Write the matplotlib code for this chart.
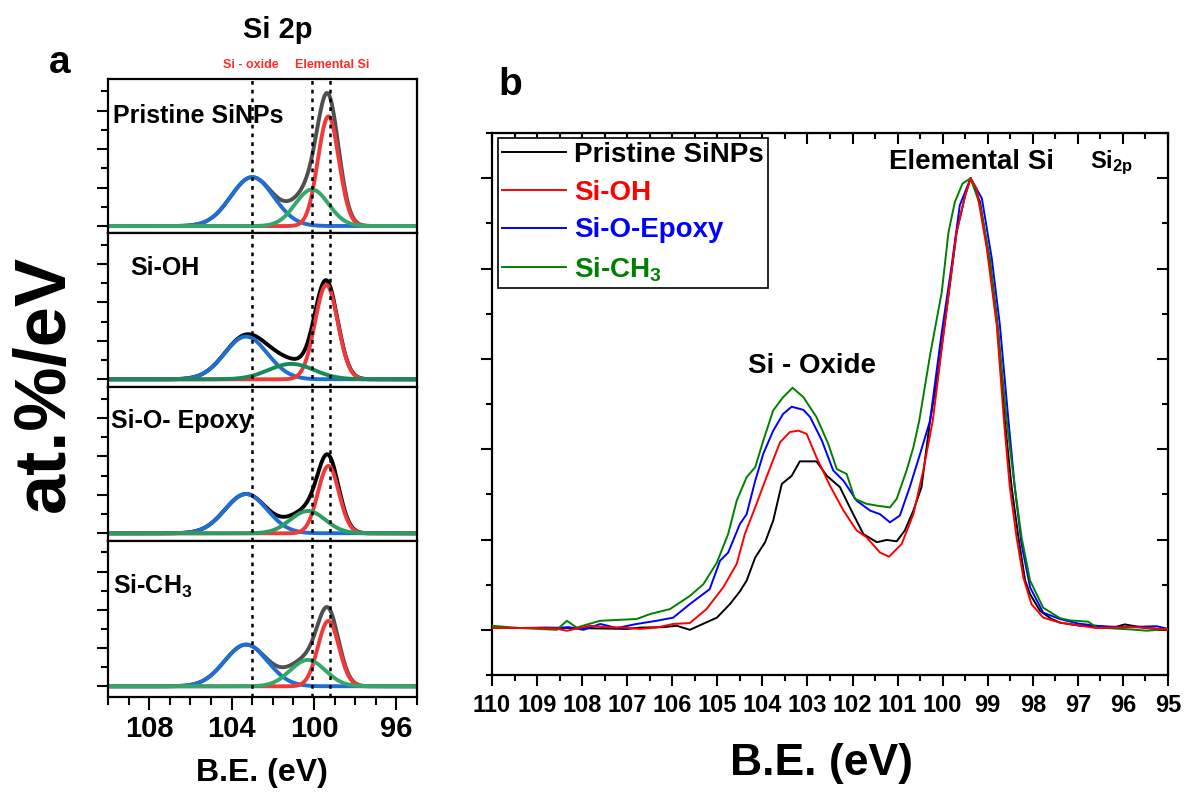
import numpy as np
import matplotlib.pyplot as plt
from matplotlib.ticker import MultipleLocator

plt.rcParams['font.family'] = ['Liberation Sans', 'DejaVu Sans']
plt.rcParams['font.weight'] = 'bold'
plt.rcParams['mathtext.fontset'] = 'custom'
plt.rcParams['mathtext.rm'] = 'Liberation Sans:bold'
plt.rcParams['mathtext.it'] = 'Liberation Sans:bold'
plt.rcParams['mathtext.bf'] = 'Liberation Sans:bold'
plt.rcParams['mathtext.default'] = 'rm'

# ---- panel a: Si 2p peak fits (centre eV, height, FWHM eV) ----
fit_labels = ['Pristine SiNPs', 'Si-OH', 'Si-O- Epoxy', 'Si-CH$_3$']
oxide_center = [103.0, 103.3, 103.3, 103.3]
oxide_height = [1.27, 1.11, 1.02, 1.09]
oxide_fwhm = [2.45, 2.45, 2.4, 2.45]
si_center = [99.3, 99.4, 99.3, 99.3]
si_height = [2.85, 2.45, 1.75, 1.71]
si_fwhm = [1.2, 1.3, 1.2, 1.2]
mid_center = [100.1, 101.1, 100.3, 100.3]
mid_height = [0.95, 0.40, 0.58, 0.69]
mid_fwhm = [1.9, 2.6, 2.0, 2.0]
ref_lines = [103.0, 100.1, 99.2]

# ---- panel b: normalised Si 2p spectra ----
be_pristine = [110.0, 109.4, 108.8, 108.2, 107.6, 107.0, 106.7, 106.2, 105.9, 105.61,
               105.3, 105.01, 104.72, 104.5, 104.35, 104.16, 103.94, 103.76, 103.57, 103.35,
               103.17, 102.8, 102.57, 102.28, 102.06, 101.76, 101.46, 101.24, 101.02, 100.84,
               100.65, 100.47, 100.28, 100.1, 99.91, 99.69, 99.5, 99.38, 99.17, 98.95,
               98.77, 98.62, 98.47, 98.32, 98.17, 98.06, 97.84, 97.6, 97.4, 96.95,
               96.5, 96.21, 95.96, 95.5, 95.0]
int_pristine = [0.004, 0.004, 0.005, 0.004, 0.003, 0.002, 0.005, 0.006, 0.009, 0.0,
                0.014, 0.027, 0.057, 0.085, 0.109, 0.160, 0.194, 0.242, 0.323, 0.341,
                0.373, 0.373, 0.341, 0.316, 0.271, 0.212, 0.194, 0.199, 0.196, 0.220,
                0.264, 0.316, 0.463, 0.570, 0.711, 0.881, 0.962, 1.0, 0.947, 0.807,
                0.659, 0.463, 0.316, 0.205, 0.109, 0.079, 0.042, 0.025, 0.016, 0.009,
                0.008, 0.005, 0.012, 0.004, 0.0]

be_oh = [110.0, 109.16, 108.6, 108.34, 107.83, 107.5, 107.09, 106.72, 106.35, 105.98,
         105.61, 105.24, 104.87, 104.57, 104.39, 104.13, 103.91, 103.61, 103.39, 103.2,
         103.02, 102.8, 102.5, 102.2, 101.91, 101.69, 101.39, 101.19, 100.91, 100.65,
         100.43, 100.22, 99.91, 99.69, 99.5, 99.38, 99.25, 99.02, 98.8, 98.64,
         98.51, 98.36, 98.21, 98.03, 97.77, 97.4, 97.0, 96.6, 96.2, 95.8,
         95.4, 95.0]
int_oh = [0.004, 0.004, 0.003, -0.002, 0.009, 0.006, 0.005, 0.002, 0.005, 0.013,
          0.015, 0.046, 0.094, 0.146, 0.212, 0.279, 0.338, 0.415, 0.438, 0.441,
          0.434, 0.382, 0.319, 0.264, 0.220, 0.205, 0.171, 0.162, 0.190, 0.256,
          0.353, 0.463, 0.711, 0.881, 0.962, 1.0, 0.977, 0.844, 0.674, 0.463,
          0.316, 0.205, 0.116, 0.057, 0.027, 0.016, 0.010, 0.004, 0.005, 0.006,
          0.004, 0.0]

be_epoxy = [110.0, 108.56, 108.3, 107.97, 107.6, 107.23, 106.79, 106.35, 105.98, 105.61,
            105.17, 104.94, 104.76, 104.5, 104.35, 104.16, 103.98, 103.76, 103.54, 103.35,
            103.09, 102.94, 102.68, 102.43, 102.2, 101.91, 101.61, 101.39, 101.17, 100.95,
            100.73, 100.5, 100.28, 100.02, 99.8, 99.62, 99.38, 99.13, 98.91, 98.73,
            98.54, 98.4, 98.25, 98.06, 97.77, 97.4, 97.0, 96.5, 96.0, 95.25,
            95.0]
int_epoxy = [0.004, 0.004, 0.006, 0.0, 0.013, 0.004, 0.013, 0.020, 0.027, 0.057,
             0.090, 0.153, 0.171, 0.234, 0.256, 0.330, 0.390, 0.441, 0.478, 0.494,
             0.487, 0.471, 0.419, 0.353, 0.330, 0.286, 0.264, 0.256, 0.238, 0.253,
             0.316, 0.390, 0.463, 0.659, 0.807, 0.940, 1.0, 0.955, 0.822, 0.674,
             0.463, 0.316, 0.190, 0.094, 0.038, 0.024, 0.014, 0.008, 0.006, 0.008,
             0.002]

be_ch3 = [110.0, 109.38, 108.56, 108.34, 108.12, 107.85, 107.6, 107.2, 106.79, 106.49,
          106.05, 105.61, 105.31, 105.01, 104.76, 104.57, 104.35, 104.16, 103.98, 103.76,
          103.54, 103.33, 103.09, 102.8, 102.54, 102.35, 102.13, 101.95, 101.69, 101.46,
          101.17, 101.02, 100.8, 100.65, 100.52, 100.28, 100.02, 99.87, 99.73, 99.56,
          99.38, 99.17, 98.95, 98.8, 98.58, 98.4, 98.25, 98.06, 97.77, 97.4,
          97.18, 96.77, 96.58, 95.84, 95.47, 95.0]
int_ch3 = [0.009, 0.004, 0.0, 0.020, 0.005, 0.013, 0.020, 0.022, 0.024, 0.035,
           0.046, 0.075, 0.101, 0.149, 0.212, 0.286, 0.338, 0.360, 0.419, 0.486,
           0.515, 0.536, 0.515, 0.471, 0.412, 0.356, 0.345, 0.290, 0.279, 0.275,
           0.271, 0.290, 0.353, 0.404, 0.463, 0.608, 0.748, 0.881, 0.947, 0.988,
           1.0, 0.940, 0.822, 0.696, 0.463, 0.316, 0.205, 0.109, 0.049, 0.026,
           0.021, 0.018, 0.005, 0.001, -0.002, 0.002]

W, H = 1185, 796
fig = plt.figure(figsize=(W / 100, H / 100), dpi=100)


def box(left, top, right, bottom):
    return [left / W, 1 - bottom / H, (right - left) / W, (bottom - top) / H]


def gauss(x, c, h, w):
    return h * np.exp(-4 * np.log(2) * (x - c) ** 2 / w ** 2)


# panel a
panel_boxes = [(108, 79, 417, 233), (108, 233, 417, 387),
               (108, 387, 417, 541), (108, 541, 417, 697)]
panel_ylim = [(-0.18, 3.82), (-0.2, 3.8), (-0.2, 3.8), (-0.28, 3.8)]
env_colors = ['#505050', 'black', 'black', '#505050']
green_colors = ['#33a86a', '#178a5c', '#2a9d63', '#33a86a']
label_y = [0.712, 0.727, 0.732, 0.662]
label_x = [0.016, 0.071, 0.010, 0.016]

e = np.linspace(95, 110, 601)
for i in range(4):
    ax = fig.add_axes(box(*panel_boxes[i]))
    oxide = gauss(e, oxide_center[i], oxide_height[i], oxide_fwhm[i])
    si = gauss(e, si_center[i], si_height[i], si_fwhm[i])
    mid = gauss(e, mid_center[i], mid_height[i], mid_fwhm[i])
    ax.plot(e, oxide + si + mid, color=env_colors[i], lw=2.8)
    ax.plot(e, oxide, color='#1f6fd2', lw=2.8)
    ax.plot(e, si, color='#f03a3a', lw=2.8)
    ax.plot(e, mid, color=green_colors[i], lw=2.8)
    for x in ref_lines:
        ax.axvline(x, color='black', lw=1.8, ls=(0, (1.5, 2.0)), zorder=5)
    ax.text(label_x[i], label_y[i], fit_labels[i], transform=ax.transAxes,
            fontsize=18, ha='left', va='baseline')
    ax.set_xlim(110, 95)
    ax.set_ylim(*panel_ylim[i])
    ax.yaxis.set_major_locator(MultipleLocator(1))
    ax.yaxis.set_minor_locator(MultipleLocator(0.5))
    ax.xaxis.set_major_locator(MultipleLocator(4))
    ax.xaxis.set_minor_locator(MultipleLocator(1))
    ax.tick_params(axis='y', which='major', direction='out', length=8, width=1.5, labelleft=False)
    ax.tick_params(axis='y', which='minor', direction='out', length=5, width=1.5)
    if i == 3:
        ax.tick_params(axis='x', which='major', direction='out', length=9, width=1.5,
                       labelsize=21, pad=4)
        ax.tick_params(axis='x', which='minor', direction='out', length=5.5, width=1.5)
    else:
        ax.tick_params(axis='x', which='both', bottom=False, labelbottom=False)
    for s in ax.spines.values():
        s.set_linewidth(1.6)

fig.text(60 / W, 1 - 63 / H, 'a', fontsize=28, ha='center', va='center')
fig.text(278 / W, 1 - 30 / H, 'Si 2p', fontsize=21, ha='center', va='center')
fig.text(251 / W, 1 - 65 / H, 'Si - oxide', fontsize=9, color='#ff2a2a', ha='center', va='center')
fig.text(332 / W, 1 - 65 / H, 'Elemental Si', fontsize=9, color='#ff2a2a', ha='center', va='center')
fig.text(45 / W, 1 - 383 / H, 'at.%/eV', fontsize=52, rotation=90, ha='center', va='center')
fig.text(262 / W, 1 - 773 / H, 'B.E. (eV)', fontsize=23, ha='center', va='center')

# panel b
axb = fig.add_axes(box(492, 133, 1168, 675))
axb.plot(be_pristine, int_pristine, color='black', lw=1.4, label='Pristine SiNPs')
axb.plot(be_oh, int_oh, color='#ff0000', lw=1.4, label='Si-OH', zorder=4)
axb.plot(be_epoxy, int_epoxy, color='#0000ff', lw=1.4, label='Si-O-Epoxy', zorder=2)
axb.plot(be_ch3, int_ch3, color='#008000', lw=1.4, label='Si-CH$_3$', zorder=3)
axb.set_xlim(110, 95)
axb.set_ylim(-0.1, 1.1)
axb.xaxis.set_major_locator(MultipleLocator(1))
axb.xaxis.set_minor_locator(MultipleLocator(0.5))
axb.yaxis.set_major_locator(MultipleLocator(0.2))
axb.yaxis.set_minor_locator(MultipleLocator(0.1))
axb.tick_params(which='major', direction='out', length=8, width=1.5, labelsize=17, pad=6)
axb.tick_params(which='minor', direction='out', length=4, width=1.5)
axb.tick_params(axis='y', labelleft=False)
for s in axb.spines.values():
    s.set_linewidth(1.6)

top = axb.secondary_xaxis('top')
top.xaxis.set_major_locator(MultipleLocator(1))
top.xaxis.set_minor_locator(MultipleLocator(0.5))
top.tick_params(which='major', direction='in', length=8, width=1.5, labeltop=False)
top.tick_params(which='minor', direction='in', length=4, width=1.5)
right = axb.secondary_yaxis('right')
right.yaxis.set_major_locator(MultipleLocator(0.2))
right.yaxis.set_minor_locator(MultipleLocator(0.1))
right.tick_params(which='major', direction='in', length=8, width=1.5, labelright=False)
right.tick_params(which='minor', direction='in', length=4, width=1.5)

leg = axb.legend(loc='upper left', bbox_to_anchor=(0.009, 0.991), borderaxespad=0,
                 fontsize=20, handlelength=2.3, handletextpad=0.3, labelspacing=0.42,
                 borderpad=0.15, fancybox=False, framealpha=1, edgecolor='black',
                 labelcolor='linecolor')
leg.get_frame().set_linewidth(1.2)

axb.text(99.35, 1.035, 'Elemental Si', fontsize=20, ha='center', va='center')
axb.text(96.25, 1.035, 'Si$_{2p}$', fontsize=17, ha='center', va='center')
axb.text(102.9, 0.585, 'Si - Oxide', fontsize=20, ha='center', va='center')

fig.text(510 / W, 1 - 85 / H, 'b', fontsize=28, ha='center', va='center')
fig.text(821 / W, 1 - 763 / H, 'B.E. (eV)', fontsize=32, ha='center', va='center')

fig.savefig('out.png', dpi=100)
